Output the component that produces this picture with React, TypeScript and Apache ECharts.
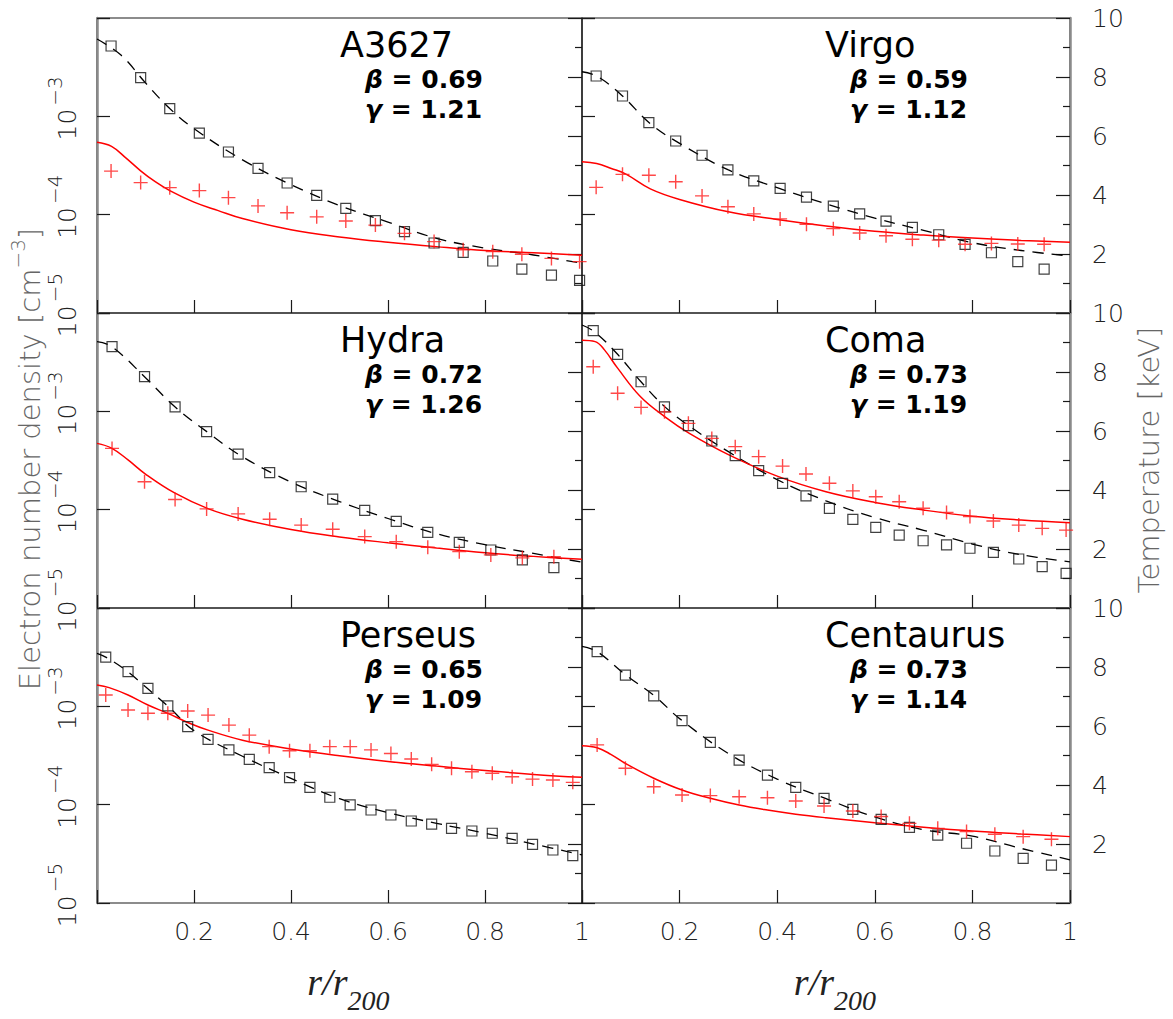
import React, { useEffect, useRef } from "react";
import * as echarts from "echarts";

const FONT = "DejaVu Sans";

// ---------- panel labels ----------
const clusterNames = ["A3627", "Virgo", "Hydra", "Coma", "Perseus", "Centaurus"];
const betaValues = ["0.69", "0.59", "0.72", "0.73", "0.65", "0.73"];
const gammaValues = ["1.21", "1.12", "1.26", "1.19", "1.09", "1.14"];

// ---------- A3627 ----------
const rA3627 = [0.029, 0.09, 0.15, 0.211, 0.271, 0.332, 0.392, 0.453, 0.513, 0.574, 0.634, 0.695, 0.755, 0.816, 0.876, 0.937, 0.995];
const neA3627 = [5.19e-3, 2.47e-3, 1.2e-3, 6.76e-4, 4.34e-4, 2.96e-4, 2.1e-4, 1.57e-4, 1.16e-4, 8.69e-5, 6.71e-5, 5.15e-5, 4.14e-5, 3.38e-5, 2.8e-5, 2.43e-5, 2.15e-5];
const tA3627 = [4.81, 4.42, 4.25, 4.15, 3.91, 3.63, 3.4, 3.26, 3.12, 2.98, 2.7, 2.42, 2.14, 2.08, 1.99, 1.85, 1.74];
const neFitRA3627 = [0, 0.05, 0.1, 0.15, 0.2, 0.3, 0.4, 0.5, 0.6, 0.7, 0.8, 0.9, 1.0];
const neFitA3627 = [6.11e-3, 4.17e-3, 2.19e-3, 1.2e-3, 7.5e-4, 3.61e-4, 2.02e-4, 1.24e-4, 8.41e-5, 5.75e-5, 4.57e-5, 3.89e-5, 3.2e-5];
const tFitRA3627 = [0, 0.03, 0.06, 0.09, 0.12, 0.15, 0.2, 0.25, 0.3, 0.4, 0.5, 0.6, 0.7, 0.8, 0.9, 1.0];
const tFitA3627 = [5.79, 5.65, 5.25, 4.82, 4.45, 4.15, 3.76, 3.47, 3.2, 2.82, 2.58, 2.4, 2.25, 2.12, 2.04, 1.96];

// ---------- Virgo ----------
const rVirgo = [0.029, 0.083, 0.137, 0.192, 0.246, 0.299, 0.352, 0.406, 0.46, 0.515, 0.569, 0.623, 0.677, 0.731, 0.785, 0.839, 0.893, 0.947];
const neVirgo = [2.57e-3, 1.61e-3, 8.61e-4, 5.61e-4, 4.02e-4, 2.86e-4, 2.21e-4, 1.85e-4, 1.51e-4, 1.22e-4, 1.02e-4, 8.61e-5, 7.43e-5, 6.25e-5, 4.99e-5, 4.1e-5, 3.33e-5, 2.8e-5];
const tVirgo = [4.26, 4.7, 4.67, 4.45, 3.97, 3.6, 3.36, 3.19, 3.01, 2.86, 2.71, 2.62, 2.5, 2.47, 2.33, 2.36, 2.34, 2.33];
const neFitRVirgo = [0, 0.03, 0.08, 0.14, 0.2, 0.3, 0.4, 0.5, 0.6, 0.7, 0.8, 0.9, 1.0];
const neFitVirgo = [2.84e-3, 2.57e-3, 1.66e-3, 8.41e-4, 5.31e-4, 2.85e-4, 1.88e-4, 1.29e-4, 9.23e-5, 6.92e-5, 5.19e-5, 4.32e-5, 3.8e-5];
const tFitRVirgo = [0, 0.03, 0.06, 0.09, 0.14, 0.2, 0.3, 0.4, 0.5, 0.6, 0.7, 0.8, 0.9, 1.0];
const tFitVirgo = [5.13, 5.07, 4.9, 4.71, 4.21, 3.85, 3.43, 3.17, 2.95, 2.77, 2.64, 2.54, 2.46, 2.4];

// ---------- Hydra ----------
const rHydra = [0.031, 0.098, 0.161, 0.226, 0.291, 0.356, 0.421, 0.486, 0.552, 0.617, 0.682, 0.747, 0.812, 0.877, 0.942];
const neHydra = [4.54e-3, 2.25e-3, 1.11e-3, 6.21e-4, 3.68e-4, 2.38e-4, 1.71e-4, 1.28e-4, 9.84e-5, 7.6e-5, 5.87e-5, 4.66e-5, 3.89e-5, 3.08e-5, 2.57e-5];
const tHydra = [5.41, 4.28, 3.68, 3.36, 3.19, 3.01, 2.81, 2.67, 2.42, 2.25, 2.06, 1.91, 1.8, 1.7, 1.74];
const neFitRHydra = [0, 0.03, 0.1, 0.16, 0.23, 0.3, 0.4, 0.5, 0.6, 0.7, 0.8, 0.9, 1.0];
const neFitHydra = [5.11e-3, 4.57e-3, 2.2e-3, 1.12e-3, 6.03e-4, 3.45e-4, 1.91e-4, 1.21e-4, 8.13e-5, 5.69e-5, 4.41e-5, 3.59e-5, 2.92e-5];
const tFitRHydra = [0, 0.03, 0.064, 0.1, 0.16, 0.23, 0.3, 0.4, 0.5, 0.6, 0.7, 0.8, 0.9, 1.0];
const tFitHydra = [5.58, 5.42, 5.02, 4.54, 3.9, 3.36, 3.01, 2.66, 2.41, 2.21, 2.03, 1.87, 1.75, 1.65];

// ---------- Coma ----------
const rComa = [0.023, 0.073, 0.121, 0.169, 0.218, 0.266, 0.314, 0.362, 0.411, 0.459, 0.507, 0.555, 0.602, 0.65, 0.699, 0.747, 0.795, 0.843, 0.895, 0.943, 0.992];
const neComa = [6.61e-3, 3.8e-3, 2.0e-3, 1.11e-3, 7.14e-4, 4.99e-4, 3.54e-4, 2.49e-4, 1.85e-4, 1.38e-4, 1.03e-4, 7.98e-5, 6.61e-5, 5.52e-5, 4.83e-5, 4.38e-5, 4.05e-5, 3.68e-5, 3.15e-5, 2.63e-5, 2.25e-5];
const tComa = [8.18, 7.28, 6.8, 6.65, 6.26, 5.75, 5.47, 5.13, 4.81, 4.54, 4.23, 3.97, 3.77, 3.6, 3.38, 3.24, 3.1, 2.95, 2.81, 2.7, 2.64];
const neFitRComa = [0, 0.025, 0.07, 0.12, 0.17, 0.22, 0.3, 0.4, 0.5, 0.6, 0.7, 0.8, 0.9, 1.0];
const neFitComa = [7.55e-3, 6.46e-3, 3.94e-3, 2.02e-3, 1.11e-3, 7.08e-4, 3.89e-4, 2.02e-4, 1.23e-4, 8.32e-5, 6.17e-5, 4.47e-5, 3.48e-5, 2.95e-5];
const tFitRComa = [0, 0.027, 0.046, 0.073, 0.12, 0.17, 0.22, 0.3, 0.4, 0.5, 0.6, 0.7, 0.8, 0.9, 1.0];
const tFitComa = [9.08, 9.03, 8.75, 8.13, 7.16, 6.48, 5.92, 5.2, 4.47, 3.94, 3.58, 3.32, 3.11, 2.98, 2.89];

// ---------- Perseus ----------
const rPerseus = [0.018, 0.064, 0.105, 0.146, 0.187, 0.229, 0.272, 0.314, 0.355, 0.397, 0.439, 0.48, 0.522, 0.565, 0.606, 0.648, 0.69, 0.731, 0.773, 0.815, 0.856, 0.898, 0.94, 0.981];
const nePerseus = [3.16e-3, 2.25e-3, 1.52e-3, 1.01e-3, 6.21e-4, 4.62e-4, 3.6e-4, 2.89e-4, 2.38e-4, 1.88e-4, 1.5e-4, 1.19e-4, 9.93e-5, 8.83e-5, 7.85e-5, 6.82e-5, 6.35e-5, 5.74e-5, 5.4e-5, 5.12e-5, 4.55e-5, 3.95e-5, 3.46e-5, 3.03e-5];
const tPerseus = [7.05, 6.54, 6.43, 6.43, 6.51, 6.37, 6.03, 5.69, 5.3, 5.16, 5.16, 5.3, 5.3, 5.19, 5.07, 4.88, 4.7, 4.57, 4.45, 4.4, 4.28, 4.2, 4.17, 4.09];
const neFitRPerseus = [0, 0.02, 0.06, 0.1, 0.15, 0.2, 0.3, 0.4, 0.5, 0.6, 0.7, 0.8, 0.9, 1.0];
const neFitPerseus = [3.46e-3, 3.13e-3, 2.32e-3, 1.58e-3, 9.66e-4, 5.66e-4, 3.11e-4, 1.85e-4, 1.15e-4, 8.32e-5, 6.46e-5, 5.13e-5, 3.98e-5, 3.09e-5];
const tFitRPerseus = [0, 0.025, 0.064, 0.105, 0.146, 0.187, 0.229, 0.3, 0.4, 0.5, 0.6, 0.7, 0.8, 0.9, 1.0];
const tFitPerseus = [7.39, 7.3, 7.05, 6.71, 6.43, 6.12, 5.86, 5.52, 5.22, 4.99, 4.8, 4.64, 4.49, 4.36, 4.26];

// ---------- Centaurus ----------
const rCentaurus = [0.031, 0.089, 0.147, 0.205, 0.263, 0.322, 0.38, 0.438, 0.496, 0.555, 0.613, 0.671, 0.729, 0.788, 0.846, 0.904, 0.962];
const neCentaurus = [3.6e-3, 2.08e-3, 1.28e-3, 7.14e-4, 4.31e-4, 2.84e-4, 2.0e-4, 1.5e-4, 1.16e-4, 8.97e-5, 7.1e-5, 5.87e-5, 4.91e-5, 4.05e-5, 3.38e-5, 2.84e-5, 2.43e-5];
const tCentaurus = [5.36, 4.57, 3.94, 3.66, 3.64, 3.6, 3.57, 3.46, 3.29, 3.12, 2.93, 2.7, 2.53, 2.42, 2.33, 2.25, 2.16];
const neFitRCentaurus = [0, 0.03, 0.09, 0.15, 0.2, 0.3, 0.4, 0.5, 0.6, 0.7, 0.8, 0.9, 1.0];
const neFitCentaurus = [4.07e-3, 3.63e-3, 2.08e-3, 1.26e-3, 7.5e-4, 3.31e-4, 1.82e-4, 1.15e-4, 7.5e-5, 5.56e-5, 4.79e-5, 3.59e-5, 2.75e-5];
const tFitRCentaurus = [0, 0.031, 0.059, 0.089, 0.147, 0.205, 0.263, 0.322, 0.38, 0.438, 0.5, 0.6, 0.7, 0.8, 0.9, 1.0];
const tFitCentaurus = [5.33, 5.26, 5.04, 4.73, 4.23, 3.83, 3.55, 3.32, 3.15, 3.01, 2.89, 2.72, 2.57, 2.44, 2.34, 2.25];

// ---------- axis ticks ----------
const xTickInterval = 0.2;
const tempTickInterval = 2;

const panels = [
  { r: rA3627, ne: neA3627, t: tA3627, fr: neFitRA3627, fn: neFitA3627, tr: tFitRA3627, tf: tFitA3627 },
  { r: rVirgo, ne: neVirgo, t: tVirgo, fr: neFitRVirgo, fn: neFitVirgo, tr: tFitRVirgo, tf: tFitVirgo },
  { r: rHydra, ne: neHydra, t: tHydra, fr: neFitRHydra, fn: neFitHydra, tr: tFitRHydra, tf: tFitHydra },
  { r: rComa, ne: neComa, t: tComa, fr: neFitRComa, fn: neFitComa, tr: tFitRComa, tf: tFitComa },
  { r: rPerseus, ne: nePerseus, t: tPerseus, fr: neFitRPerseus, fn: neFitPerseus, tr: tFitRPerseus, tf: tFitPerseus },
  { r: rCentaurus, ne: neCentaurus, t: tCentaurus, fr: neFitRCentaurus, fn: neFitCentaurus, tr: tFitRCentaurus, tf: tFitCentaurus },
];

const COL_LEFT = [97, 582];
const COL_W = [485, 488];
const ROW_TOP = [18, 313, 608];
const PANEL_H = 295;

const tickStyle = { color: "#1a1a1a", width: 1.2 };
const outerLine = { color: "#8a8a8a", width: 2.5 };

function buildOption() {
  const grid: any[] = [];
  const xAxis: any[] = [];
  const yAxis: any[] = [];
  const series: any[] = [];
  const elements: any[] = [];

  panels.forEach((p, i) => {
    const row = Math.floor(i / 2);
    const col = i % 2;
    const left = COL_LEFT[col];
    const width = COL_W[col];
    const top = ROW_TOP[row];

    grid.push({
      left,
      top,
      width,
      height: PANEL_H,
      show: true,
      borderColor: "#1a1a1a",
      borderWidth: 1.2,
      containLabel: false,
      outerBoundsMode: "none",
    });

    xAxis.push({
      type: "value",
      gridIndex: i,
      min: 0,
      max: 1,
      interval: xTickInterval,
      axisLine: { show: false },
      axisTick: { show: true, inside: true, length: 13, lineStyle: tickStyle },
      splitLine: { show: false },
      axisLabel: {
        show: row === 2,
        margin: 16,
        fontFamily: FONT,
        fontWeight: 200,
        fontSize: 25,
        color: "#222",
        formatter: (v: number) => (v === 0 ? "" : String(Math.round(v * 10) / 10)),
      },
    });

    yAxis.push({
      type: "log",
      logBase: 10,
      gridIndex: i,
      position: "left",
      min: 1e-5,
      max: 1e-2,
      splitNumber: 3,
      axisLine: { show: col === 0, lineStyle: outerLine },
      axisTick: { show: true, inside: true, length: 13, lineStyle: tickStyle },
      minorTick: { show: false },
      splitLine: { show: false },
      axisLabel: {
        show: col === 0,
        rotate: 90,
        margin: 8,
        padding: [0, 0, 0, 16],
        formatter: (v: number) => {
          const e = Math.round(Math.log10(v));
          if (e >= -2) return "";
          return "{a|10}{b|\u2212" + -e + "}";
        },
        rich: {
          a: { fontFamily: FONT, fontWeight: 200, fontSize: 25, lineHeight: 44, color: "#222" },
          b: { fontFamily: FONT, fontWeight: 200, fontSize: 20, lineHeight: 20, verticalAlign: "top", color: "#222", padding: [0, 0, 0, 3] },
        },
      },
    });

    yAxis.push({
      type: "value",
      gridIndex: i,
      position: "right",
      min: 0,
      max: 10,
      interval: tempTickInterval,
      axisLine: { show: col === 1, lineStyle: outerLine },
      axisTick: { show: true, inside: true, length: 14, lineStyle: tickStyle },
      minorTick: { show: true, splitNumber: 2, length: 7, lineStyle: tickStyle },
      splitLine: { show: false },
      minorSplitLine: { show: false },
      axisLabel: {
        show: col === 1,
        margin: 22,
        fontFamily: FONT,
        fontWeight: 200,
        fontSize: 25,
        color: "#222",
        formatter: (v: number) => (v === 0 ? "" : String(v)),
      },
    });

    series.push({
      type: "line",
      xAxisIndex: i,
      yAxisIndex: 2 * i,
      data: p.fr.map((x, k) => [x, p.fn[k]]),
      smooth: 0.4,
      showSymbol: false,
      lineStyle: { color: "#000", width: 1.3, type: [11, 8] },
      z: 2,
    });
    series.push({
      type: "line",
      xAxisIndex: i,
      yAxisIndex: 2 * i + 1,
      data: p.tr.map((x, k) => [x, p.tf[k]]),
      smooth: 0.4,
      showSymbol: false,
      lineStyle: { color: "#ff0000", width: 1.5 },
      z: 2,
    });
    series.push({
      type: "scatter",
      xAxisIndex: i,
      yAxisIndex: 2 * i,
      data: p.r.map((x, k) => [x, p.ne[k]]),
      symbol: "rect",
      symbolSize: 10,
      itemStyle: { color: "rgba(0,0,0,0)", borderColor: "#111", borderWidth: 1.2 },
      z: 3,
    });
    series.push({
      type: "scatter",
      xAxisIndex: i,
      yAxisIndex: 2 * i + 1,
      data: p.r.map((x, k) => [x, p.t[k]]),
      symbol: "path://M6,0 L6,12 M0,6 L12,6",
      symbolSize: 14,
      itemStyle: { color: "rgba(0,0,0,0)", borderColor: "#ff1a1a", borderWidth: 1.4 },
      z: 3,
    });

    elements.push({
      type: "text",
      x: left + 243,
      y: top + 27,
      style: { text: clusterNames[i], fontFamily: FONT, fontSize: 35, fill: "#000", align: "left", verticalAlign: "middle" },
    });
    const rich = {
      g: { fontFamily: FONT, fontWeight: "bold", fontStyle: "italic", fontSize: 25, fill: "#000" },
      n: { fontFamily: FONT, fontWeight: "bold", fontSize: 25, fill: "#000" },
    };
    elements.push({
      type: "text",
      x: left + 268,
      y: top + 61,
      style: { text: "{g|\u03b2}{n| = " + betaValues[i] + "}", rich, align: "left", verticalAlign: "middle" },
    });
    elements.push({
      type: "text",
      x: left + 268,
      y: top + 91,
      style: { text: "{g|\u03b3}{n| = " + gammaValues[i] + "}", rich, align: "left", verticalAlign: "middle" },
    });
  });

  [0, 1].forEach((col) => {
    const cx = COL_LEFT[col] + COL_W[col] / 2;
    elements.push({
      type: "text",
      x: cx + 8,
      y: 982,
      style: { text: "r/r", fontFamily: "Liberation Serif", fontStyle: "italic", fontSize: 38, fill: "#222", align: "right", verticalAlign: "middle" },
    });
    elements.push({
      type: "text",
      x: cx + 8,
      y: 1000,
      style: { text: "200", fontFamily: "Liberation Serif", fontStyle: "italic", fontSize: 28, fill: "#222", align: "left", verticalAlign: "middle" },
    });
  });

  elements.push({
    type: "text",
    x: 30,
    y: 459,
    rotation: Math.PI / 2,
    style: {
      text: "{n|Electron number density [cm}{s|\u22123}{n|]}",
      rich: {
        n: { fontFamily: FONT, fontWeight: 200, fontSize: 29, lineHeight: 44, fill: "#666" },
        s: { fontFamily: FONT, fontWeight: 200, fontSize: 20, lineHeight: 20, verticalAlign: "top", fill: "#666" },
      },
      align: "center",
      verticalAlign: "middle",
    },
  });
  elements.push({
    type: "text",
    x: 1149,
    y: 460,
    rotation: Math.PI / 2,
    style: { text: "Temperature [keV]", fontFamily: FONT, fontWeight: 200, fontSize: 29, fill: "#666", align: "center", verticalAlign: "middle" },
  });

  return {
    animation: false,
    backgroundColor: "#fff",
    grid,
    xAxis,
    yAxis,
    series,
    graphic: { elements },
  };
}

export default function App() {
  const ref = useRef<HTMLDivElement>(null);
  useEffect(() => {
    if (!ref.current) return;
    const chart = echarts.init(ref.current, null, { renderer: "svg" });
    chart.setOption(buildOption() as any);
    return () => chart.dispose();
  }, []);
  return <div ref={ref} style={{ position: "absolute", left: 0, top: 0, width: 1173, height: 1019 }} />;
}
